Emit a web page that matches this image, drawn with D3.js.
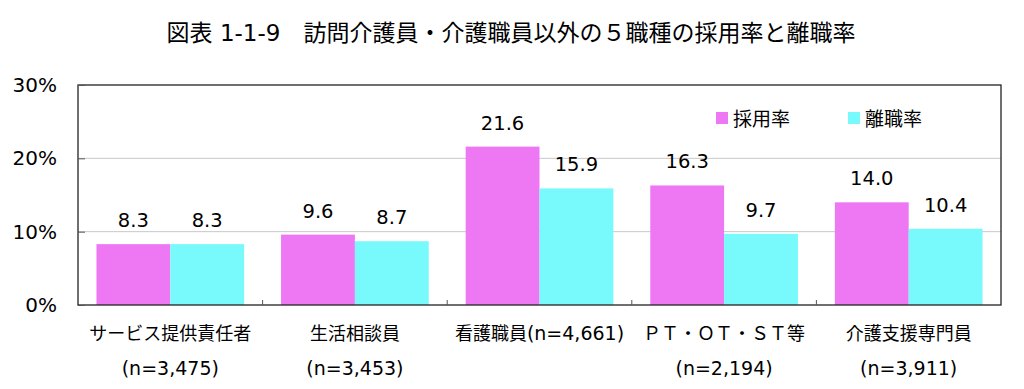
<!DOCTYPE html>
<html><head><meta charset="utf-8">
<script src="https://cdn.jsdelivr.net/npm/d3@7"></script>
<style>body{margin:0;background:#fff}svg{display:block}text{font-family:"DejaVu Sans","Noto Sans CJK JP",sans-serif;fill:#000}</style>
</head><body>
<script>
const categories = ["サービス提供責任者","生活相談員","看護職員","ＰＴ・ＯＴ・ＳＴ等","介護支援専門員"];
const sampleSizes = ["(n=3,475)","(n=3,453)","(n=4,661)","(n=2,194)","(n=3,911)"];
const seriesNames = ["採用率","離職率"];
const hiringRate = [8.3, 9.6, 21.6, 16.3, 14.0];
const turnoverRate = [8.3, 8.7, 15.9, 9.7, 10.4];
const yTicks = [0, 10, 20, 30];
const colors = ["#EE78F4", "#78FAFC"];

const W = 1024, H = 389;
const m = {left: 78, right: 1001, top: 85, bottom: 305};
const svg = d3.select("body").append("svg").attr("width", W).attr("height", H);

svg.append("text").attr("x", 511).attr("y", 41).attr("text-anchor", "middle")
  .style("font-size", "23px").text("図表 1-1-9　訪問介護員・介護職員以外の５職種の採用率と離職率");

const x = d3.scaleBand().domain(d3.range(categories.length)).range([m.left, m.right]).paddingInner(0.2).paddingOuter(0.1);
const x0 = d3.scaleBand().domain(d3.range(categories.length)).range([m.left, m.right]);
const xs = d3.scaleBand().domain([0,1]).range([0, x.bandwidth()]);
const y = d3.scaleLinear().domain([0, 30]).range([m.bottom, m.top]);

// gridlines
svg.append("g").selectAll("line").data(yTicks.filter(t => t > 0 && t < 30)).join("line")
  .attr("x1", m.left).attr("x2", m.right).attr("y1", d => y(d)).attr("y2", d => y(d))
  .attr("stroke", "#c8c8c8").attr("stroke-width", 1);

const series = [hiringRate, turnoverRate];
series.forEach((vals, s) => {
  svg.append("g").selectAll("rect").data(vals).join("rect")
    .attr("x", (d, i) => x(i) + xs(s)).attr("width", xs.bandwidth())
    .attr("y", d => y(d)).attr("height", d => y(0) - y(d)).attr("fill", colors[s]);
  svg.append("g").selectAll("text").data(vals).join("text")
    .attr("x", (d, i) => x(i) + xs(s) + xs.bandwidth() / 2).attr("y", d => y(d) - 17)
    .attr("text-anchor", "middle").style("font-size", "19.5px").text(d => d.toFixed(1));
});

// frame
svg.append("rect").attr("x", m.left).attr("y", m.top).attr("width", m.right - m.left).attr("height", m.bottom - m.top)
  .attr("fill", "none").attr("stroke", "#222").attr("stroke-width", 1.3);

// y axis ticks & labels
const yAxis = d3.axisLeft(y).tickValues(yTicks).tickSize(-7).tickFormat(d => d + "%").tickPadding(21);
const ya = svg.append("g").attr("transform", `translate(${m.left},0)`).call(yAxis);
ya.select(".domain").remove();
ya.selectAll(".tick line").attr("stroke", "#555");
ya.selectAll(".tick text").style("font-size", "20px").attr("fill", "#000").style("font-family", "DejaVu Sans, sans-serif");

// x category ticks (inward)
svg.append("g").selectAll("line").data(d3.range(1, categories.length)).join("line")
  .attr("x1", d => x0(d)).attr("x2", d => x0(d)).attr("y1", m.bottom).attr("y2", m.bottom - 5)
  .attr("stroke", "#555");

// category labels
const lab = svg.append("g");
categories.forEach((c, i) => {
  const cx = x0(i) + x0.bandwidth() / 2;
  if (i === 2) {
    const t = lab.append("text").attr("x", cx).attr("y", 340).attr("text-anchor", "middle");
    t.append("tspan").style("font-size", "18px").text(c);
    t.append("tspan").style("font-size", "19px").text(sampleSizes[i]);
  } else {
    lab.append("text").attr("x", cx).attr("y", 340).attr("text-anchor", "middle").style("font-size", "18px").text(c);
    lab.append("text").attr("x", cx).attr("y", 375).attr("text-anchor", "middle").style("font-size", "19px").text(sampleSizes[i]);
  }
});

// legend
const lg = svg.append("g");
const lx = [716, 848];
seriesNames.forEach((n, i) => {
  lg.append("rect").attr("x", lx[i]).attr("y", 112).attr("width", 12).attr("height", 12).attr("fill", colors[i]);
  lg.append("text").attr("x", lx[i] + 17).attr("y", 126).style("font-size", "19px").text(n);
});
</script>
</body></html>
